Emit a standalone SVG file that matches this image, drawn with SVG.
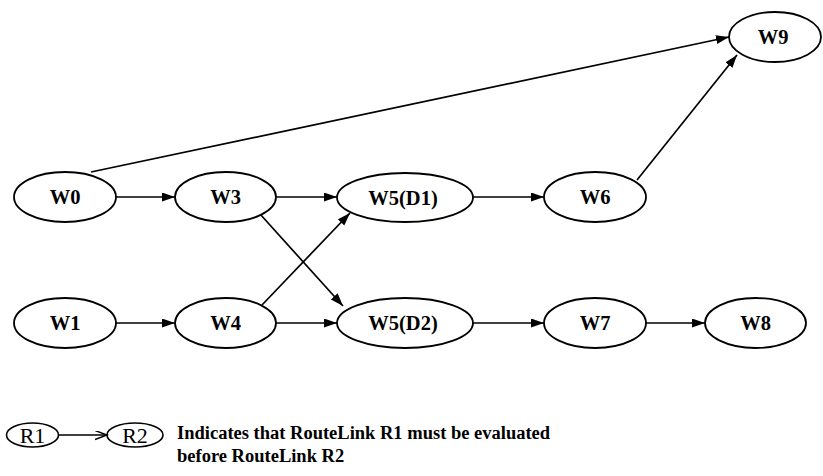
<svg xmlns="http://www.w3.org/2000/svg" width="823" height="476" viewBox="0 0 823 476">
  <style>
    .node ellipse { fill: #fff; stroke: #000; stroke-width: 1.8; }
    .node text { font-family: "Liberation Serif", "Times New Roman", serif; font-weight: bold; font-size: 20.5px; text-anchor: middle; fill: #000; }
    .edges line { stroke: #000; stroke-width: 1.7; marker-end: url(#arrow); }
    .legend ellipse { fill: #fff; stroke: #000; stroke-width: 1.6; }
    .legend .r { font-family: "Liberation Serif", "Times New Roman", serif; font-size: 22px; text-anchor: middle; fill: #000; }
    .legend .note { font-family: "Liberation Serif", "Times New Roman", serif; font-weight: bold; font-size: 18.5px; fill: #000; }
  </style>
  <defs>
    <marker id="arrow" markerUnits="userSpaceOnUse" markerWidth="14" markerHeight="10" refX="13" refY="4.5" orient="auto">
      <path d="M0,0 L13,4.5 L0,9 Z" fill="#000"/>
    </marker>
    <marker id="open" markerUnits="userSpaceOnUse" markerWidth="14" markerHeight="10" refX="12" refY="4.5" orient="auto">
      <path d="M0,0 L12,4.5 L0,9" fill="none" stroke="#000" stroke-width="1.4"/>
    </marker>
  </defs>

  <!-- connectors -->
  <g class="edges">
    <line x1="91" y1="172" x2="729" y2="37"/>
    <line x1="637" y1="180" x2="737" y2="55"/>
    <line x1="116" y1="197" x2="175" y2="197"/>
    <line x1="276" y1="197" x2="337" y2="197"/>
    <line x1="473" y1="197" x2="544" y2="197"/>
    <line x1="260" y1="214" x2="343" y2="306"/>
    <line x1="262" y1="305" x2="350" y2="213"/>
    <line x1="116" y1="323" x2="175" y2="323"/>
    <line x1="276" y1="323" x2="337" y2="323"/>
    <line x1="473" y1="323" x2="544" y2="323"/>
    <line x1="646" y1="323" x2="705" y2="323"/>
  </g>

  <!-- nodes -->
  <g id="W0" class="node"><ellipse cx="65" cy="197" rx="51" ry="25"/><text x="65" y="204">W0</text></g>
  <g id="W3" class="node"><ellipse cx="225.5" cy="197" rx="50.5" ry="25"/><text x="225.5" y="204">W3</text></g>
  <g id="W5D1" class="node"><ellipse cx="405" cy="197.5" rx="68" ry="24.5"/><text x="403" y="205">W5(D1)</text></g>
  <g id="W6" class="node"><ellipse cx="595" cy="197" rx="51" ry="25"/><text x="595" y="204">W6</text></g>
  <g id="W9" class="node"><ellipse cx="775" cy="37" rx="46" ry="25"/><text x="773" y="44">W9</text></g>
  <g id="W1" class="node"><ellipse cx="65" cy="323" rx="51" ry="25"/><text x="65" y="330">W1</text></g>
  <g id="W4" class="node"><ellipse cx="225.5" cy="323" rx="50.5" ry="25"/><text x="225.5" y="330">W4</text></g>
  <g id="W5D2" class="node"><ellipse cx="405" cy="323" rx="68" ry="25"/><text x="403" y="330">W5(D2)</text></g>
  <g id="W7" class="node"><ellipse cx="595" cy="323" rx="51" ry="25"/><text x="595" y="330">W7</text></g>
  <g id="W8" class="node"><ellipse cx="755.5" cy="323" rx="50.5" ry="25"/><text x="755.5" y="330">W8</text></g>

  <!-- legend -->
  <g class="legend">
    <g id="R1"><ellipse cx="32.5" cy="435" rx="26" ry="12"/><text class="r" x="32.5" y="443">R1</text></g>
    <g id="R2"><ellipse cx="135" cy="435" rx="28" ry="12"/><text class="r" x="135" y="443">R2</text></g>
    <line x1="59" y1="435" x2="107" y2="435" stroke="#000" stroke-width="1.5" marker-end="url(#open)"/>
    <text class="note" x="177" y="439">Indicates that RouteLink R1 must be evaluated</text>
    <text class="note" x="177" y="462">before RouteLink R2</text>
  </g>
</svg>
